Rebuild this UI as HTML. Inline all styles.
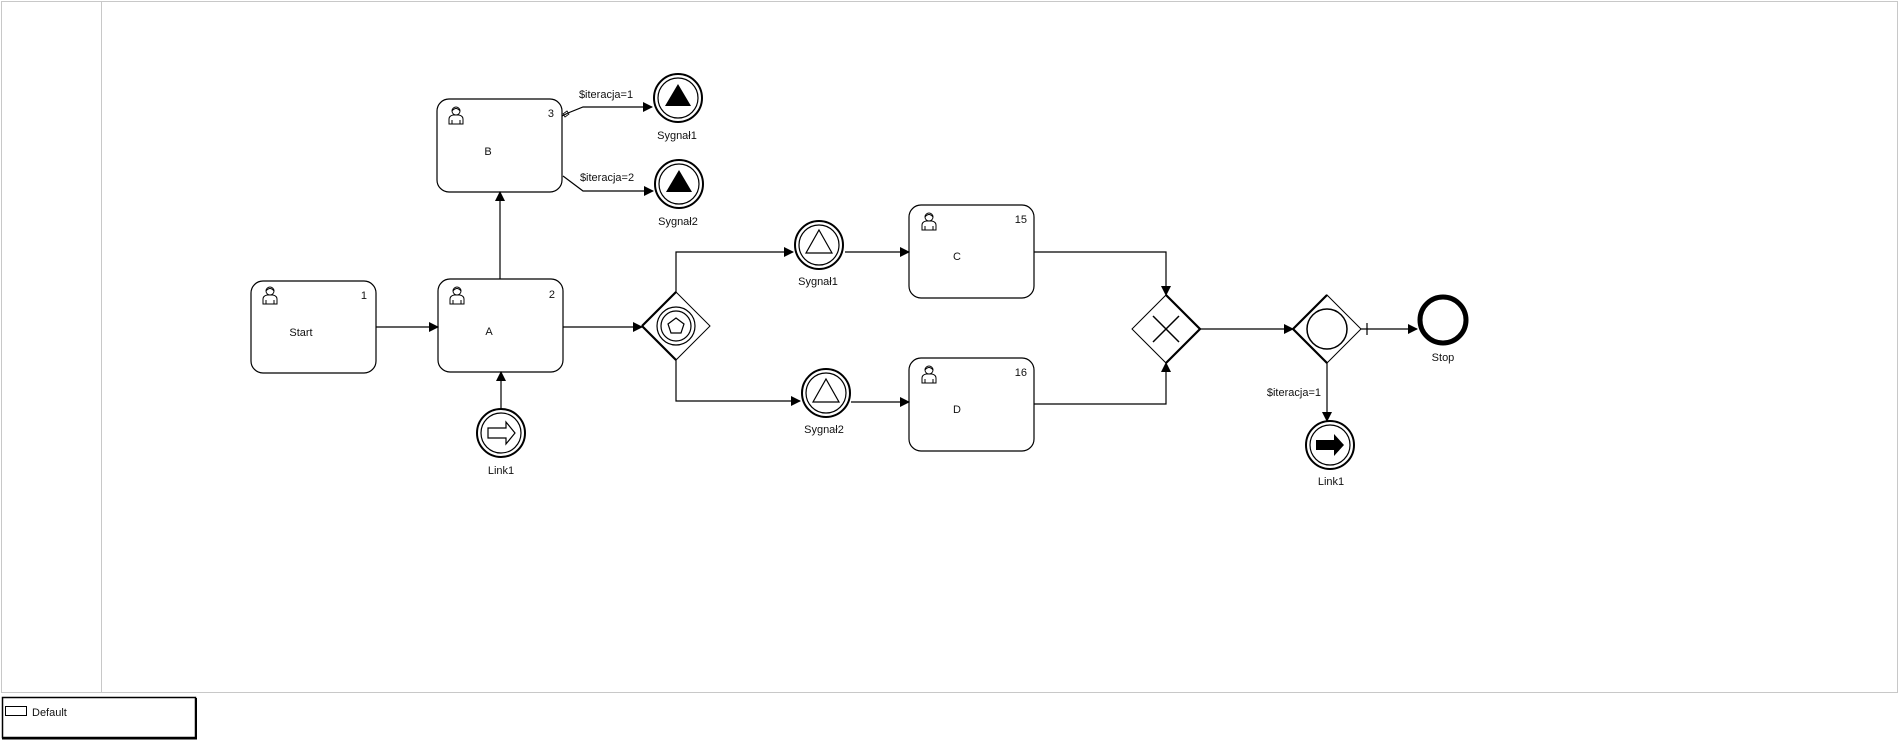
<!DOCTYPE html>
<html><head><meta charset="utf-8"><style>
html,body{margin:0;padding:0;background:#fff;width:1903px;height:742px;overflow:hidden}
svg{display:block}
text{font-family:"Liberation Sans",sans-serif;font-size:11px;fill:#111}
</style></head><body>
<svg width="1903" height="742" viewBox="0 0 1903 742" xmlns="http://www.w3.org/2000/svg">
<defs>
<marker id="ar" markerWidth="10" markerHeight="10" refX="9" refY="5" orient="auto" markerUnits="userSpaceOnUse">
<path d="M0,0 L10,5 L0,10 z" fill="#000"/></marker>
<g id="usr" fill="none" stroke="#000" stroke-width="1">
<circle cx="9" cy="6" r="4"/>
<path d="M5,6 Q9,1 13,6"/>
<path d="M2,19 L2,14 Q2,11 6,10 L12,10 Q16,11 16,14 L16,19 Z"/>
<path d="M5,19 L5,15 M13,19 L13,15"/>
</g>
</defs>
<!-- frame -->
<rect x="1.5" y="1.5" width="1896" height="691" fill="none" stroke="#c8c8c8"/>
<line x1="101.5" y1="1" x2="101.5" y2="693" stroke="#c8c8c8"/>
<!-- legend -->
<rect x="2.5" y="697.5" width="193" height="40" fill="none" stroke="#000" stroke-width="1.5"/>
<line x1="196" y1="698" x2="196" y2="739" stroke="#000" stroke-width="2"/>
<line x1="2" y1="738.5" x2="197" y2="738.5" stroke="#000" stroke-width="2"/>
<rect x="5.5" y="706.5" width="21" height="9" fill="none" stroke="#000"/>
<text x="32" y="716">Default</text>

<g fill="none" stroke="#000" stroke-width="1.2">
<!-- connectors -->
<line x1="376" y1="327" x2="438" y2="327" marker-end="url(#ar)"/>
<line x1="500" y1="279" x2="500" y2="192" marker-end="url(#ar)"/>
<line x1="501" y1="409" x2="501" y2="372" marker-end="url(#ar)"/>
<line x1="563" y1="327" x2="642" y2="327" marker-end="url(#ar)"/>
<polyline points="562,116 568,113 583,107 652,107" marker-end="url(#ar)"/>
<path d="M563,114 l4,-3 l2,3 l-4,3 z" stroke-width="0.8"/>
<polyline points="563,176 583,191 653,191" marker-end="url(#ar)"/>
<polyline points="676,292 676,252 793,252" marker-end="url(#ar)"/>
<polyline points="676,360 676,401 800,401" marker-end="url(#ar)"/>
<line x1="845" y1="252" x2="909" y2="252" marker-end="url(#ar)"/>
<line x1="851" y1="402" x2="909" y2="402" marker-end="url(#ar)"/>
<polyline points="1034,252 1166,252 1166,295" marker-end="url(#ar)"/>
<polyline points="1034,404 1166,404 1166,363" marker-end="url(#ar)"/>
<line x1="1200" y1="329" x2="1293" y2="329" marker-end="url(#ar)"/>
<line x1="1361" y1="329" x2="1417" y2="329" marker-end="url(#ar)"/>
<line x1="1367" y1="323" x2="1367" y2="335"/>
<line x1="1327" y1="363" x2="1327" y2="421" marker-end="url(#ar)"/>

<!-- tasks -->
<rect x="251" y="281" width="125" height="92" rx="12"/>
<rect x="438" y="279" width="125" height="93" rx="12"/>
<rect x="437" y="99" width="125" height="93" rx="12"/>
<rect x="909" y="205" width="125" height="93" rx="12"/>
<rect x="909" y="358" width="125" height="93" rx="12"/>

<!-- gateways -->
<path d="M676,292 L710,326 L676,360 L642,326 Z" stroke-width="1"/>
<path d="M642,326 L676,292 M642,326 L676,360" stroke-width="2.2"/>
<circle cx="676" cy="326" r="19"/><circle cx="676" cy="326" r="15"/>
<path d="M676,318 L684,324 L681,333 L671,333 L668,324 Z"/>
<path d="M1166,295 L1200,329 L1166,363 L1132,329 Z" stroke-width="1"/>
<path d="M1166,295 L1200,329 L1166,363" stroke-width="2.2"/>
<path d="M1153,316 L1179,342 M1179,316 L1153,342" stroke-width="1.5"/>
<path d="M1327,295 L1361,329 L1327,363 L1293,329 Z" stroke-width="1"/>
<path d="M1293,329 L1327,295 M1293,329 L1327,363" stroke-width="2.2"/>
<circle cx="1327" cy="329" r="20" stroke-width="1.5"/>

<!-- events -->
<circle cx="678" cy="98" r="24" stroke-width="2"/><circle cx="678" cy="98" r="20"/>
<circle cx="679" cy="184" r="24" stroke-width="2"/><circle cx="679" cy="184" r="20"/>
<circle cx="819" cy="245" r="24" stroke-width="2"/><circle cx="819" cy="245" r="20"/>
<circle cx="826" cy="393" r="24" stroke-width="2"/><circle cx="826" cy="393" r="20"/>
<path d="M819,230 L832,253 L806,253 Z"/>
<path d="M826,379 L839,402 L813,402 Z"/>
<circle cx="501" cy="433" r="24" stroke-width="2"/><circle cx="501" cy="433" r="20"/>
<path d="M488,428 L506,428 L506,422 L515,433 L506,444 L506,438 L488,438 Z"/>
<circle cx="1330" cy="445" r="24" stroke-width="2"/><circle cx="1330" cy="445" r="20"/>
<circle cx="1443" cy="320" r="23" stroke-width="5"/>
</g>
<g fill="#000">
<path d="M678,84 L691,106 L665,106 Z"/>
<path d="M679,170 L692,192 L666,192 Z"/>
<path d="M1316,440 L1334,440 L1334,434 L1344,445 L1334,456 L1334,450 L1316,450 Z"/>
</g>
<!-- user icons -->
<use href="#usr" x="261" y="285"/>
<use href="#usr" x="448" y="285"/>
<use href="#usr" x="447" y="105"/>
<use href="#usr" x="920" y="211"/>
<use href="#usr" x="920" y="364"/>
<!-- labels -->
<g text-anchor="middle">
<text x="301" y="336" fill="#1a1a50">Start</text>
<text x="489" y="335" fill="#1a1a50">A</text>
<text x="488" y="155" fill="#1a1a50">B</text>
<text x="957" y="260" fill="#1a1a50">C</text>
<text x="957" y="413" fill="#1a1a50">D</text>
<text x="677" y="139">Sygnał1</text>
<text x="678" y="225">Sygnał2</text>
<text x="818" y="285">Sygnał1</text>
<text x="824" y="433">Sygnał2</text>
<text x="501" y="474">Link1</text>
<text x="1331" y="485">Link1</text>
<text x="1443" y="361">Stop</text>
<text x="606" y="98">$iteracja=1</text>
<text x="607" y="181">$iteracja=2</text>
</g>
<g text-anchor="end">
<text x="367" y="299" fill="#1a1a50">1</text>
<text x="555" y="298" fill="#1a1a50">2</text>
<text x="554" y="117" fill="#1a1a50">3</text>
<text x="1027" y="223" fill="#1a1a50">15</text>
<text x="1027" y="376" fill="#1a1a50">16</text>
<text x="1321" y="396">$iteracja=1</text>
</g>
</svg>
</body></html>
